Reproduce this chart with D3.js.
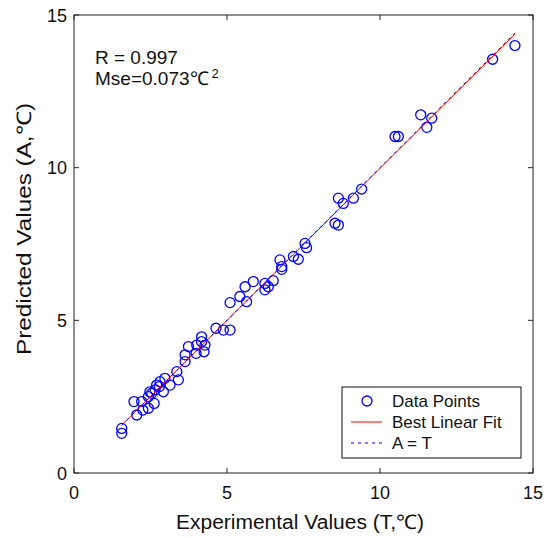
<!DOCTYPE html>
<html><head><meta charset="utf-8">
<script src="https://cdn.jsdelivr.net/npm/d3@7/dist/d3.min.js"></script>
<style>
body{margin:0;background:#fff;}
svg text{font-family:Arial,"Liberation Sans",sans-serif;fill:#111;}
</style></head>
<body><svg id="c" width="553" height="538"></svg>
<script>
// Experimental (T) values
const experimental = [1.56,1.56,2.05,1.96,2.25,2.21,2.43,2.62,2.48,2.65,2.79,2.81,2.97,3.14,3.41,3.36,3.63,3.63,3.74,3.99,4.01,4.17,4.17,4.25,4.28,4.64,4.88,5.10,5.10,5.42,5.59,5.64,5.86,6.24,6.35,6.51,6.73,6.79,6.79,7.17,7.33,7.55,7.60,8.53,8.64,8.64,8.80,9.13,9.40,10.49,10.60,11.33,11.69,11.53,13.68,14.41,2.43,2.54,2.92,2.70,6.24];
// Predicted (A) values
const predicted = [1.46,1.30,1.90,2.34,2.06,2.34,2.50,2.28,2.66,2.72,2.83,2.99,3.10,2.88,3.05,3.32,3.65,3.87,4.14,3.92,4.19,4.46,4.30,3.97,4.19,4.74,4.68,4.68,5.58,5.78,6.10,5.61,6.27,6.21,6.10,6.30,6.98,6.76,6.67,7.09,7.00,7.52,7.38,8.18,8.12,9.00,8.83,9.00,9.30,11.02,11.02,11.73,11.62,11.32,13.55,14.00,2.12,2.61,2.66,2.88,6.00];
const tickValues = [0,5,10,15];
const annotation = ["R = 0.997","Mse=0.073℃"];
const legendLabels = ["Data Points","Best Linear Fit","A = T"];

const svg = d3.select("#c");
const L=74,T=15,R=533,B=473;
const x = d3.scaleLinear().domain([0,15]).range([L,R]);
const y = d3.scaleLinear().domain([0,15]).range([B,T]);

// least squares fit
const n=experimental.length;
const mx=d3.mean(experimental), my=d3.mean(predicted);
let sxy=0,sxx=0;
for(let i=0;i<n;i++){sxy+=(experimental[i]-mx)*(predicted[i]-my);sxx+=(experimental[i]-mx)**2;}
const slope=sxy/sxx, icpt=my-slope*mx;
const [xmin,xmax]=d3.extent(experimental);

// points
svg.append("g").selectAll("circle").data(experimental).join("circle")
 .attr("cx",(d)=>x(d)).attr("cy",(d,i)=>y(predicted[i])).attr("r",5)
 .attr("fill","none").attr("stroke","#0000ff").attr("stroke-width",1.3);

// fit line
svg.append("line").attr("x1",x(xmin)).attr("y1",y(slope*xmin+icpt))
 .attr("x2",x(xmax)).attr("y2",y(slope*xmax+icpt))
 .attr("stroke","#ff0000").attr("stroke-width",1);
// A = T
svg.append("line").attr("x1",x(xmin)).attr("y1",y(xmin))
 .attr("x2",x(xmax)).attr("y2",y(xmax))
 .attr("stroke","#0000ff").attr("stroke-width",1).attr("stroke-dasharray","3,4");

// axes box
const ax=svg.append("g").attr("stroke","#222").attr("stroke-width",1).attr("fill","none");
ax.append("rect").attr("x",L).attr("y",T).attr("width",R-L).attr("height",B-T);
tickValues.forEach(v=>{
  ax.append("line").attr("x1",x(v)).attr("x2",x(v)).attr("y1",B).attr("y2",B-5);
  ax.append("line").attr("x1",x(v)).attr("x2",x(v)).attr("y1",T).attr("y2",T+5);
  ax.append("line").attr("y1",y(v)).attr("y2",y(v)).attr("x1",L).attr("x2",L+5);
  ax.append("line").attr("y1",y(v)).attr("y2",y(v)).attr("x1",R).attr("x2",R-5);
});
svg.append("g").selectAll("text").data(tickValues).join("text")
 .attr("x",d=>x(d)).attr("y",499).attr("text-anchor","middle").attr("font-size",18).text(d=>d);
svg.append("g").selectAll("text").data(tickValues).join("text")
 .attr("x",67).attr("y",d=>y(d)+6.5).attr("text-anchor","end").attr("font-size",18).text(d=>d);

svg.append("text").attr("x",176).attr("y",529).attr("font-size",20)
 .attr("textLength",248).attr("lengthAdjust","spacingAndGlyphs")
 .text("Experimental Values (T,℃)");
svg.append("text").attr("transform","translate(31,355) rotate(-90)").attr("font-size",20)
 .attr("textLength",252).attr("lengthAdjust","spacingAndGlyphs")
 .text("Predicted Values (A,℃)");

// annotation
svg.append("text").attr("x",95).attr("y",64).attr("font-size",19).text(annotation[0]);
const t2=svg.append("text").attr("x",95).attr("y",85).attr("font-size",19);
t2.append("tspan").text(annotation[1]);
t2.append("tspan").attr("dx",3).attr("dy",-7).attr("font-size",13).text("2");

// legend
const lg=svg.append("g");
lg.append("rect").attr("x",342).attr("y",387).attr("width",179).attr("height",71)
 .attr("fill","#fff").attr("stroke","#111").attr("stroke-width",1);
const rows=[401,422,443];
lg.append("circle").attr("cx",367).attr("cy",rows[0]).attr("r",5).attr("fill","none").attr("stroke","#0000ff").attr("stroke-width",1.3);
lg.append("line").attr("x1",351).attr("x2",382).attr("y1",rows[1]).attr("y2",rows[1]).attr("stroke","#ff0000");
lg.append("line").attr("x1",351).attr("x2",382).attr("y1",rows[2]).attr("y2",rows[2]).attr("stroke","#0000ff").attr("stroke-dasharray","3,4");
lg.selectAll("text.l").data(legendLabels).join("text").attr("class","l")
 .attr("x",392).attr("y",(d,i)=>rows[i]+6).attr("font-size",17).text(d=>d);
</script></body></html>
